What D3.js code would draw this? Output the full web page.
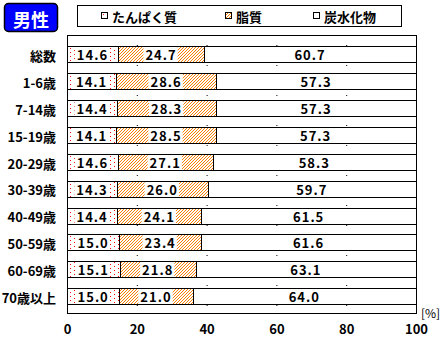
<!DOCTYPE html>
<html>
<head>
<meta charset="utf-8">
<script src="https://cdnjs.cloudflare.com/ajax/libs/d3/7.8.5/d3.min.js"></script>
<style>
  html, body { margin: 0; padding: 0; background: #fff; }
  svg text { font-family: "Noto Sans CJK JP", "DejaVu Sans", sans-serif; font-weight: bold; }
</style>
</head>
<body>
<svg id="chart" width="445" height="340"></svg>
<script>
// 年齢階級別の栄養素エネルギー比率（男性）
const categories = ["総数", "1-6歳", "7-14歳", "15-19歳", "20-29歳", "30-39歳", "40-49歳", "50-59歳", "60-69歳", "70歳以上"];
const protein = [14.6, 14.1, 14.4, 14.1, 14.6, 14.3, 14.4, 15.0, 15.1, 15.0];
const fat     = [24.7, 28.6, 28.3, 28.5, 27.1, 26.0, 24.1, 23.4, 21.8, 21.0];
const carbs   = [60.7, 57.3, 57.3, 57.3, 58.3, 59.7, 61.5, 61.6, 63.1, 64.0];
const seriesNames = ["たんぱく質", "脂質", "炭水化物"];
const xTicks = [0, 20, 40, 60, 80, 100];

const svg = d3.select("#chart");
const defs = svg.append("defs");

// 点描パターン（たんぱく質）
const dots = defs.append("pattern").attr("id", "pDots")
  .attr("patternUnits", "userSpaceOnUse").attr("width", 8).attr("height", 8);
dots.append("rect").attr("width", 8).attr("height", 8).attr("fill", "#fff");
[[2, 2], [6, 4], [2, 6], [6, 0]].forEach(([px, py]) =>
  dots.append("rect").attr("x", px).attr("y", py).attr("width", 1).attr("height", 1).attr("fill", "#ff0000"));

// 斜線パターン（脂質）
const hatch = defs.append("pattern").attr("id", "pHatch")
  .attr("patternUnits", "userSpaceOnUse").attr("width", 3).attr("height", 3);
hatch.append("rect").attr("width", 3).attr("height", 3).attr("fill", "#fff");
hatch.append("path").attr("d", "M-1,4 L4,-1 M-1,1 L1,-1 M2,4 L4,2")
  .attr("stroke", "#ff8000").attr("stroke-width", 1);

const fills = ["url(#pDots)", "url(#pHatch)", "#fff"];

const plot = { left: 67, right: 416, top: 35, bottom: 313 };
const x = d3.scaleLinear().domain([0, 100]).range([plot.left, plot.right]);
const y = d3.scaleBand().domain(categories).range([36, 315]).padding(0.39);

// 縦の補助線
svg.append("g").selectAll("line").data(xTicks.slice(1, -1)).join("line")
  .attr("x1", d => x(d) + 0.5).attr("x2", d => x(d) + 0.5)
  .attr("y1", plot.top).attr("y2", plot.bottom)
  .attr("stroke", "#000").attr("stroke-width", 1)
  .attr("stroke-dasharray", "1,9");

// 積み上げ
const rows = categories.map((c, i) => ({ cat: c, vals: [protein[i], fat[i], carbs[i]] }));
const stackData = rows.map(r => {
  let acc = 0;
  return r.vals.map((v, k) => { const s = { cat: r.cat, k, v, x0: acc, x1: acc + v }; acc += v; return s; });
});

const barG = svg.append("g");
stackData.forEach(segs => {
  barG.selectAll(null).data(segs).join("rect")
    .attr("x", d => Math.round(x(d.x0)) + 0.5)
    .attr("y", d => Math.round(y(d.cat)) + 0.5)
    .attr("width", d => Math.round(x(d.x1)) - Math.round(x(d.x0)))
    .attr("height", Math.round(y.bandwidth()))
    .attr("fill", d => fills[d.k])
    .attr("stroke", "#000").attr("stroke-width", 1);
});

// 値ラベル（白地付き）
const labG = svg.append("g");
stackData.forEach(segs => {
  segs.forEach(d => {
    const cx = (x(d.x0) + x(d.x1)) / 2;
    const cy = Math.round(y(d.cat)) + y.bandwidth() / 2 + 0.5;
    const g = labG.append("g");
    const t = g.append("text")
      .attr("x", cx).attr("y", cy)
      .attr("text-anchor", "middle").attr("dominant-baseline", "central")
      .attr("font-size", 13).attr("letter-spacing", 1)
      .attr("fill", "#000").text(d.v.toFixed(1));
    const bb = t.node().getBBox();
    g.insert("rect", "text")
      .attr("x", bb.x - 2).attr("y", Math.round(y(d.cat)) + 1)
      .attr("width", bb.width + 3).attr("height", Math.round(y.bandwidth()) - 1)
      .attr("fill", "#fff");
  });
});

// 枠
svg.append("rect")
  .attr("x", plot.left + 0.5).attr("y", plot.top + 0.5)
  .attr("width", plot.right - plot.left).attr("height", plot.bottom - plot.top)
  .attr("fill", "none").attr("stroke", "#000").attr("stroke-width", 1);

// カテゴリ軸
svg.append("g").selectAll("text").data(categories).join("text")
  .attr("x", 56).attr("y", d => y(d) + y.bandwidth() / 2 + 1)
  .attr("text-anchor", "end").attr("dominant-baseline", "central")
  .attr("font-size", 13).attr("fill", "#000").text(d => d);

// 数値軸
const xAxis = d3.axisBottom(x).tickValues(xTicks).tickSize(0).tickPadding(0);
const ax = svg.append("g").attr("transform", `translate(0,${plot.bottom + 12})`).call(xAxis);
ax.select(".domain").remove();
ax.selectAll("text")
  .attr("font-size", 13).attr("fill", "#000")
  .attr("font-family", "'Noto Sans CJK JP', sans-serif").attr("font-weight", "bold");

svg.append("text").attr("x", 421).attr("y", 318)
  .attr("font-size", 12).attr("fill", "#000")
  .style("font-weight", "normal").text("[%]");

// タイトル
svg.append("rect").attr("x", 4.5).attr("y", 3.5).attr("width", 53).attr("height", 28)
  .attr("rx", 4).attr("fill", "#0000ff").attr("stroke", "#000").attr("stroke-width", 1.5);
svg.append("text").attr("x", 31).attr("y", 18.5)
  .attr("text-anchor", "middle").attr("dominant-baseline", "central")
  .attr("font-size", 18).attr("fill", "#fff").text("男性");

// 凡例
svg.append("rect").attr("x", 77.5).attr("y", 5.5).attr("width", 324).attr("height", 21)
  .attr("fill", "#fff").attr("stroke", "#000").attr("stroke-width", 1);
const legX = [101, 225, 313];
const leg = svg.append("g").selectAll("g").data(seriesNames).join("g")
  .attr("transform", (d, i) => `translate(${legX[i]},16)`);
leg.append("rect").attr("x", 0.5).attr("y", -3.5).attr("width", 6).attr("height", 6)
  .attr("fill", (d, i) => fills[i]).attr("stroke", "#000").attr("stroke-width", 1);
leg.append("text").attr("x", 11).attr("y", 0)
  .attr("dominant-baseline", "central").attr("font-size", 13).attr("fill", "#000")
  .text(d => d);
</script>
</body>
</html>
